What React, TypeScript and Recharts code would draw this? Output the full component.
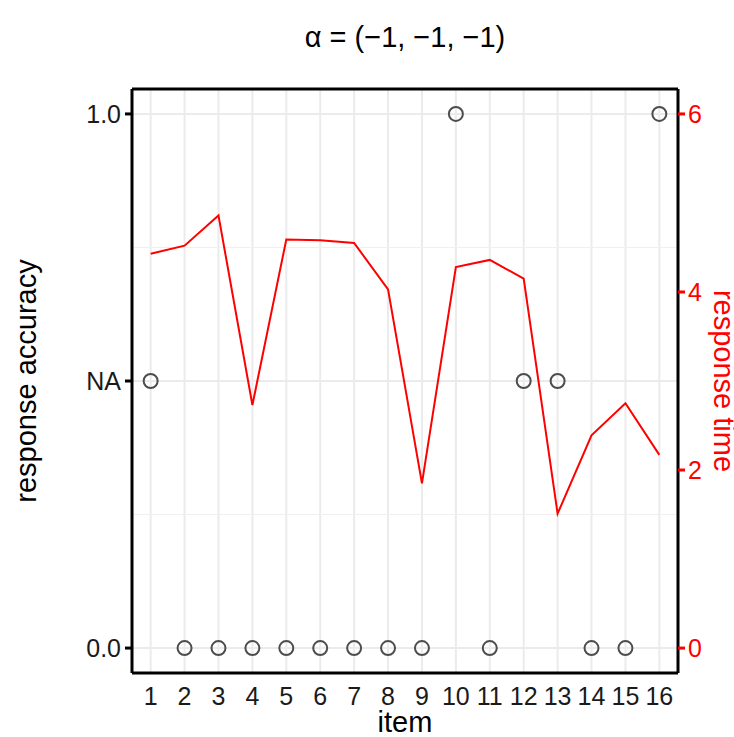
import React from 'react';
import {
  CartesianGrid,
  ComposedChart,
  Line,
  ReferenceLine,
  Scatter,
  XAxis,
  YAxis,
} from 'recharts';

const items = [1, 2, 3, 4, 5, 6, 7, 8, 9, 10, 11, 12, 13, 14, 15, 16];
// null = NA (no response)
const accuracy = [null, 0, 0, 0, 0, 0, 0, 0, 0, 1, 0, null, null, 0, 0, 1];
const responseTime = [4.43, 4.52, 4.86, 2.73, 4.59, 4.58, 4.55, 4.03, 1.85, 4.28, 4.36, 4.15, 1.51, 2.39, 2.75, 2.17];

const accTicks = [0, 0.5, 1];
const accTickLabels = ['0.0', 'NA', '1.0'];
const naLevel = 0.5;
const minorAccLines = [0.25, 0.75];
const timeTicks = [0, 2, 4, 6];

const rows = items.map((item, i) => ({
  item,
  acc: accuracy[i] === null ? naLevel : accuracy[i],
  time: responseTime[i],
}));

const FONT = '"Liberation Sans", Arial, Helvetica, sans-serif';

const leftTitle = (props: any) => {
  const vb = props.viewBox;
  const x = vb.x + 36;
  const y = vb.y + vb.height / 2;
  return (
    <text x={x} y={y} transform={`rotate(-90 ${x} ${y})`} textAnchor="middle" fontSize={29} fontFamily={FONT} fill="#000">
      response accuracy
    </text>
  );
};

const rightTitle = (props: any) => {
  const vb = props.viewBox;
  const x = vb.x + 36;
  const y = vb.y + vb.height / 2;
  return (
    <text x={x} y={y} transform={`rotate(90 ${x} ${y})`} textAnchor="middle" fontSize={29} fontFamily={FONT} fill="#ff0000">
      response time
    </text>
  );
};

const bottomTitle = (props: any) => {
  const vb = props.viewBox;
  return (
    <text x={vb.x + vb.width / 2} y={vb.y + 59} textAnchor="middle" fontSize={29} fontFamily={FONT} fill="#000">
      item
    </text>
  );
};

const openCircle = (props: any) => (
  <circle cx={props.cx} cy={props.cy} r={7} fill="none" stroke="#4d4d4d" strokeWidth={2} />
);

const App = () => {
  return (
    <div style={{ position: 'absolute', left: 0, top: 0, width: 734, height: 737, background: '#fff', fontFamily: FONT }}>
      <div style={{ position: 'absolute', left: 132, width: 546, top: 23, textAlign: 'center', fontSize: 29, lineHeight: '29px', color: '#000' }}>
        α = (−1, −1, −1)
      </div>
      <ComposedChart width={734} height={737} data={rows} margin={{ top: 88, right: 0, bottom: 0, left: 0 }}>
        <CartesianGrid xAxisId="bottom" yAxisId="left" stroke="#ebebeb" strokeWidth={2} />
        {minorAccLines.map((v) => (
          <ReferenceLine key={v} xAxisId="bottom" yAxisId="left" y={v} stroke="#f0f0f0" strokeWidth={1} />
        ))}
        <XAxis
          xAxisId="bottom"
          dataKey="item"
          type="number"
          domain={[0.45, 16.55]}
          ticks={items}
          interval={0}
          allowDataOverflow
          height={64}
          tickLine={false}
          tickSize={0}
          tickMargin={14}
          axisLine={{ stroke: '#000', strokeWidth: 3 }}
          tick={{ fill: '#1a1a1a', fontSize: 25, fontFamily: FONT }}
          label={{ content: bottomTitle }}
        />
        <XAxis
          xAxisId="top"
          orientation="top"
          dataKey="item"
          type="number"
          domain={[0.45, 16.55]}
          ticks={items}
          allowDataOverflow
          height={1}
          tick={false}
          tickLine={false}
          axisLine={{ stroke: '#000', strokeWidth: 3 }}
        />
        <YAxis
          yAxisId="left"
          type="number"
          domain={[-0.0467, 1.0467]}
          ticks={accTicks}
          allowDataOverflow
          width={132}
          tickSize={7}
          tickMargin={4}
          tickFormatter={(v: number) => accTickLabels[accTicks.indexOf(v)]}
          tickLine={{ stroke: '#000', strokeWidth: 3 }}
          axisLine={{ stroke: '#000', strokeWidth: 3 }}
          tick={{ fill: '#1a1a1a', fontSize: 25, fontFamily: FONT }}
          label={{ content: leftTitle }}
        />
        <YAxis
          yAxisId="right"
          orientation="right"
          type="number"
          domain={[-0.28, 6.28]}
          ticks={timeTicks}
          allowDataOverflow
          width={56}
          tickSize={7}
          tickMargin={3}
          tickLine={{ stroke: '#ff0000', strokeWidth: 3 }}
          axisLine={{ stroke: '#000', strokeWidth: 3 }}
          tick={{ fill: '#ff0000', fontSize: 25, fontFamily: FONT }}
          label={{ content: rightTitle }}
        />
        <Line
          xAxisId="bottom"
          yAxisId="right"
          type="linear"
          dataKey="time"
          stroke="#ff0000"
          strokeWidth={2}
          dot={false}
          activeDot={false}
          isAnimationActive={false}
        />
        <Scatter
          xAxisId="bottom"
          yAxisId="left"
          dataKey="acc"
          shape={openCircle}
          isAnimationActive={false}
        />
      </ComposedChart>
    </div>
  );
};

export default App;
